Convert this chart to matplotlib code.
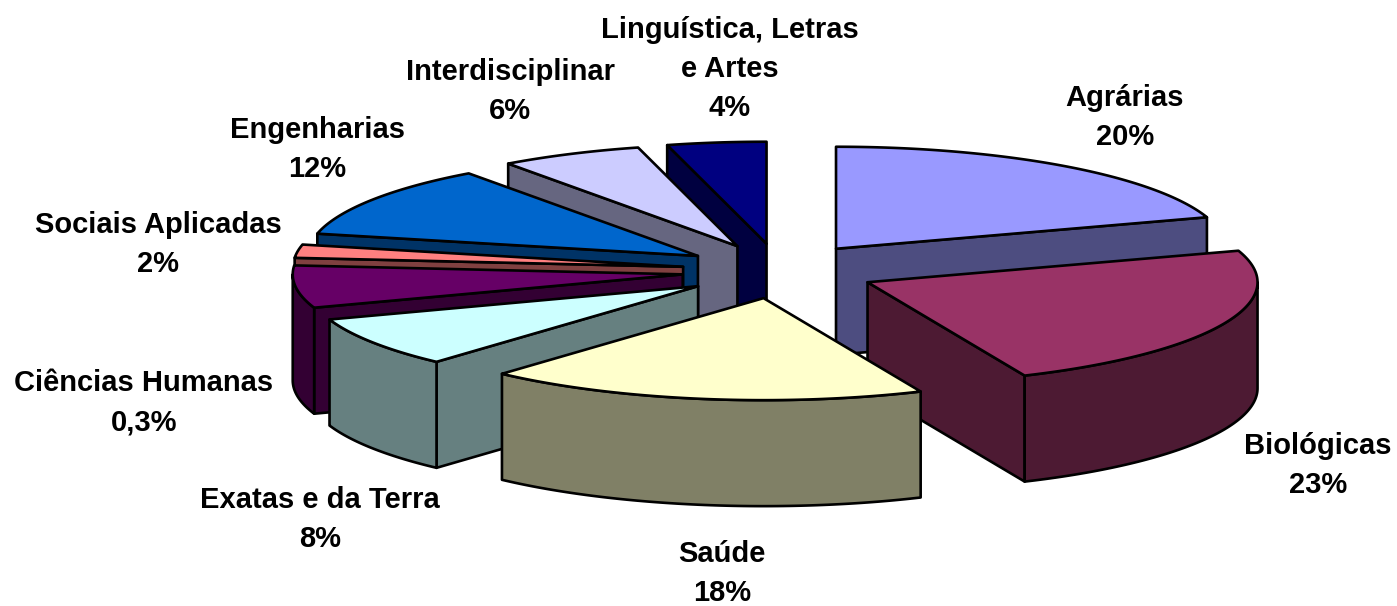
import numpy as np
import matplotlib
matplotlib.use("Agg")
import matplotlib.pyplot as plt
from matplotlib.patches import Polygon

# Data (slice sizes; labels as printed)
categories = ["Agrárias", "Biológicas", "Saúde", "Exatas e da Terra", "Ciências Humanas",
              "Sociais Aplicadas", "Engenharias", "Interdisciplinar", "Linguística, Letras\ne Artes"]
slice_values = [20.0, 23.4, 18.3, 8.0, 6.7, 2.1, 11.5, 5.9, 4.1]
value_labels = ["20%", "23%", "18%", "8%", "0,3%", "2%", "12%", "6%", "4%"]

top_colors = ["#9999FF", "#993366", "#FFFFCC", "#CCFFFF", "#660066", "#FF8080", "#0066CC", "#CCCCFF", "#000080"]
side_colors = ["#4D4D80", "#4D1A33", "#808066", "#668080", "#330033", "#804040", "#003366", "#666680", "#000040"]
label_xy = [(1125, 117.5), (1318, 465.5), (722, 573.5), (320, 519.5), (144, 402.5), (158, 244.5), (317, 149.5), (510, 91.5), (730, 69)]

# Projection in pixels
CX, CY = 779, 271
RX, RY = 390, 102
EX, EY = 97, 27.5
DEPTH = 106
LW = 1.9

fig = plt.figure(figsize=(13.97, 6.06), dpi=100, facecolor="white")
ax = fig.add_axes([0, 0, 1, 1])
ax.set_xlim(0, 1397)
ax.set_ylim(606, 0)
ax.axis("off")

vals = np.array(slice_values, dtype=float)
edges = np.concatenate([[0], np.cumsum(vals)]) / vals.sum() * 2 * np.pi
mids = (edges[:-1] + edges[1:]) / 2


def pt(ox, oy, th):
    return np.column_stack([ox + RX * np.sin(th), oy - RY * np.cos(th)])


def add(poly, color, z):
    ax.add_patch(Polygon(poly, closed=True, facecolor=color, edgecolor="black",
                         linewidth=LW, joinstyle="round", zorder=z))


order = np.argsort(-np.cos(mids))
for rank, i in enumerate(order):
    a, b = edges[i], edges[i + 1]
    ox = CX + EX * np.sin(mids[i])
    oy = CY - EY * np.cos(mids[i])
    apex = np.array([[ox, oy]])
    down = np.array([0, DEPTH])
    z = rank * 3 + 1
    # radial walls
    for th, show in ((a, np.sin(a) < -1e-6), (b, np.sin(b) > 1e-6)):
        if show:
            p = pt(ox, oy, np.array([th]))
            add(np.vstack([apex, p, p + down, apex + down]), side_colors[i], z)
    # outer curved wall (front half only)
    lo, hi = max(a, np.pi / 2), min(b, 3 * np.pi / 2)
    if hi > lo:
        arc = pt(ox, oy, np.linspace(lo, hi, 80))
        add(np.vstack([arc, (arc + down)[::-1]]), side_colors[i], z + 1)
    # top face
    arc = pt(ox, oy, np.linspace(a, b, 120))
    add(np.vstack([apex, arc]), top_colors[i], z + 2)

for name, val, (x, y) in zip(categories, value_labels, label_xy):
    ax.text(x, y, f"{name}\n{val}", ha="center", va="center", ma="center",
            family="Liberation Sans", fontweight="bold", fontsize=21,
            linespacing=1.52, color="black", zorder=100)

fig.savefig("out.png", dpi=100, facecolor="white")
